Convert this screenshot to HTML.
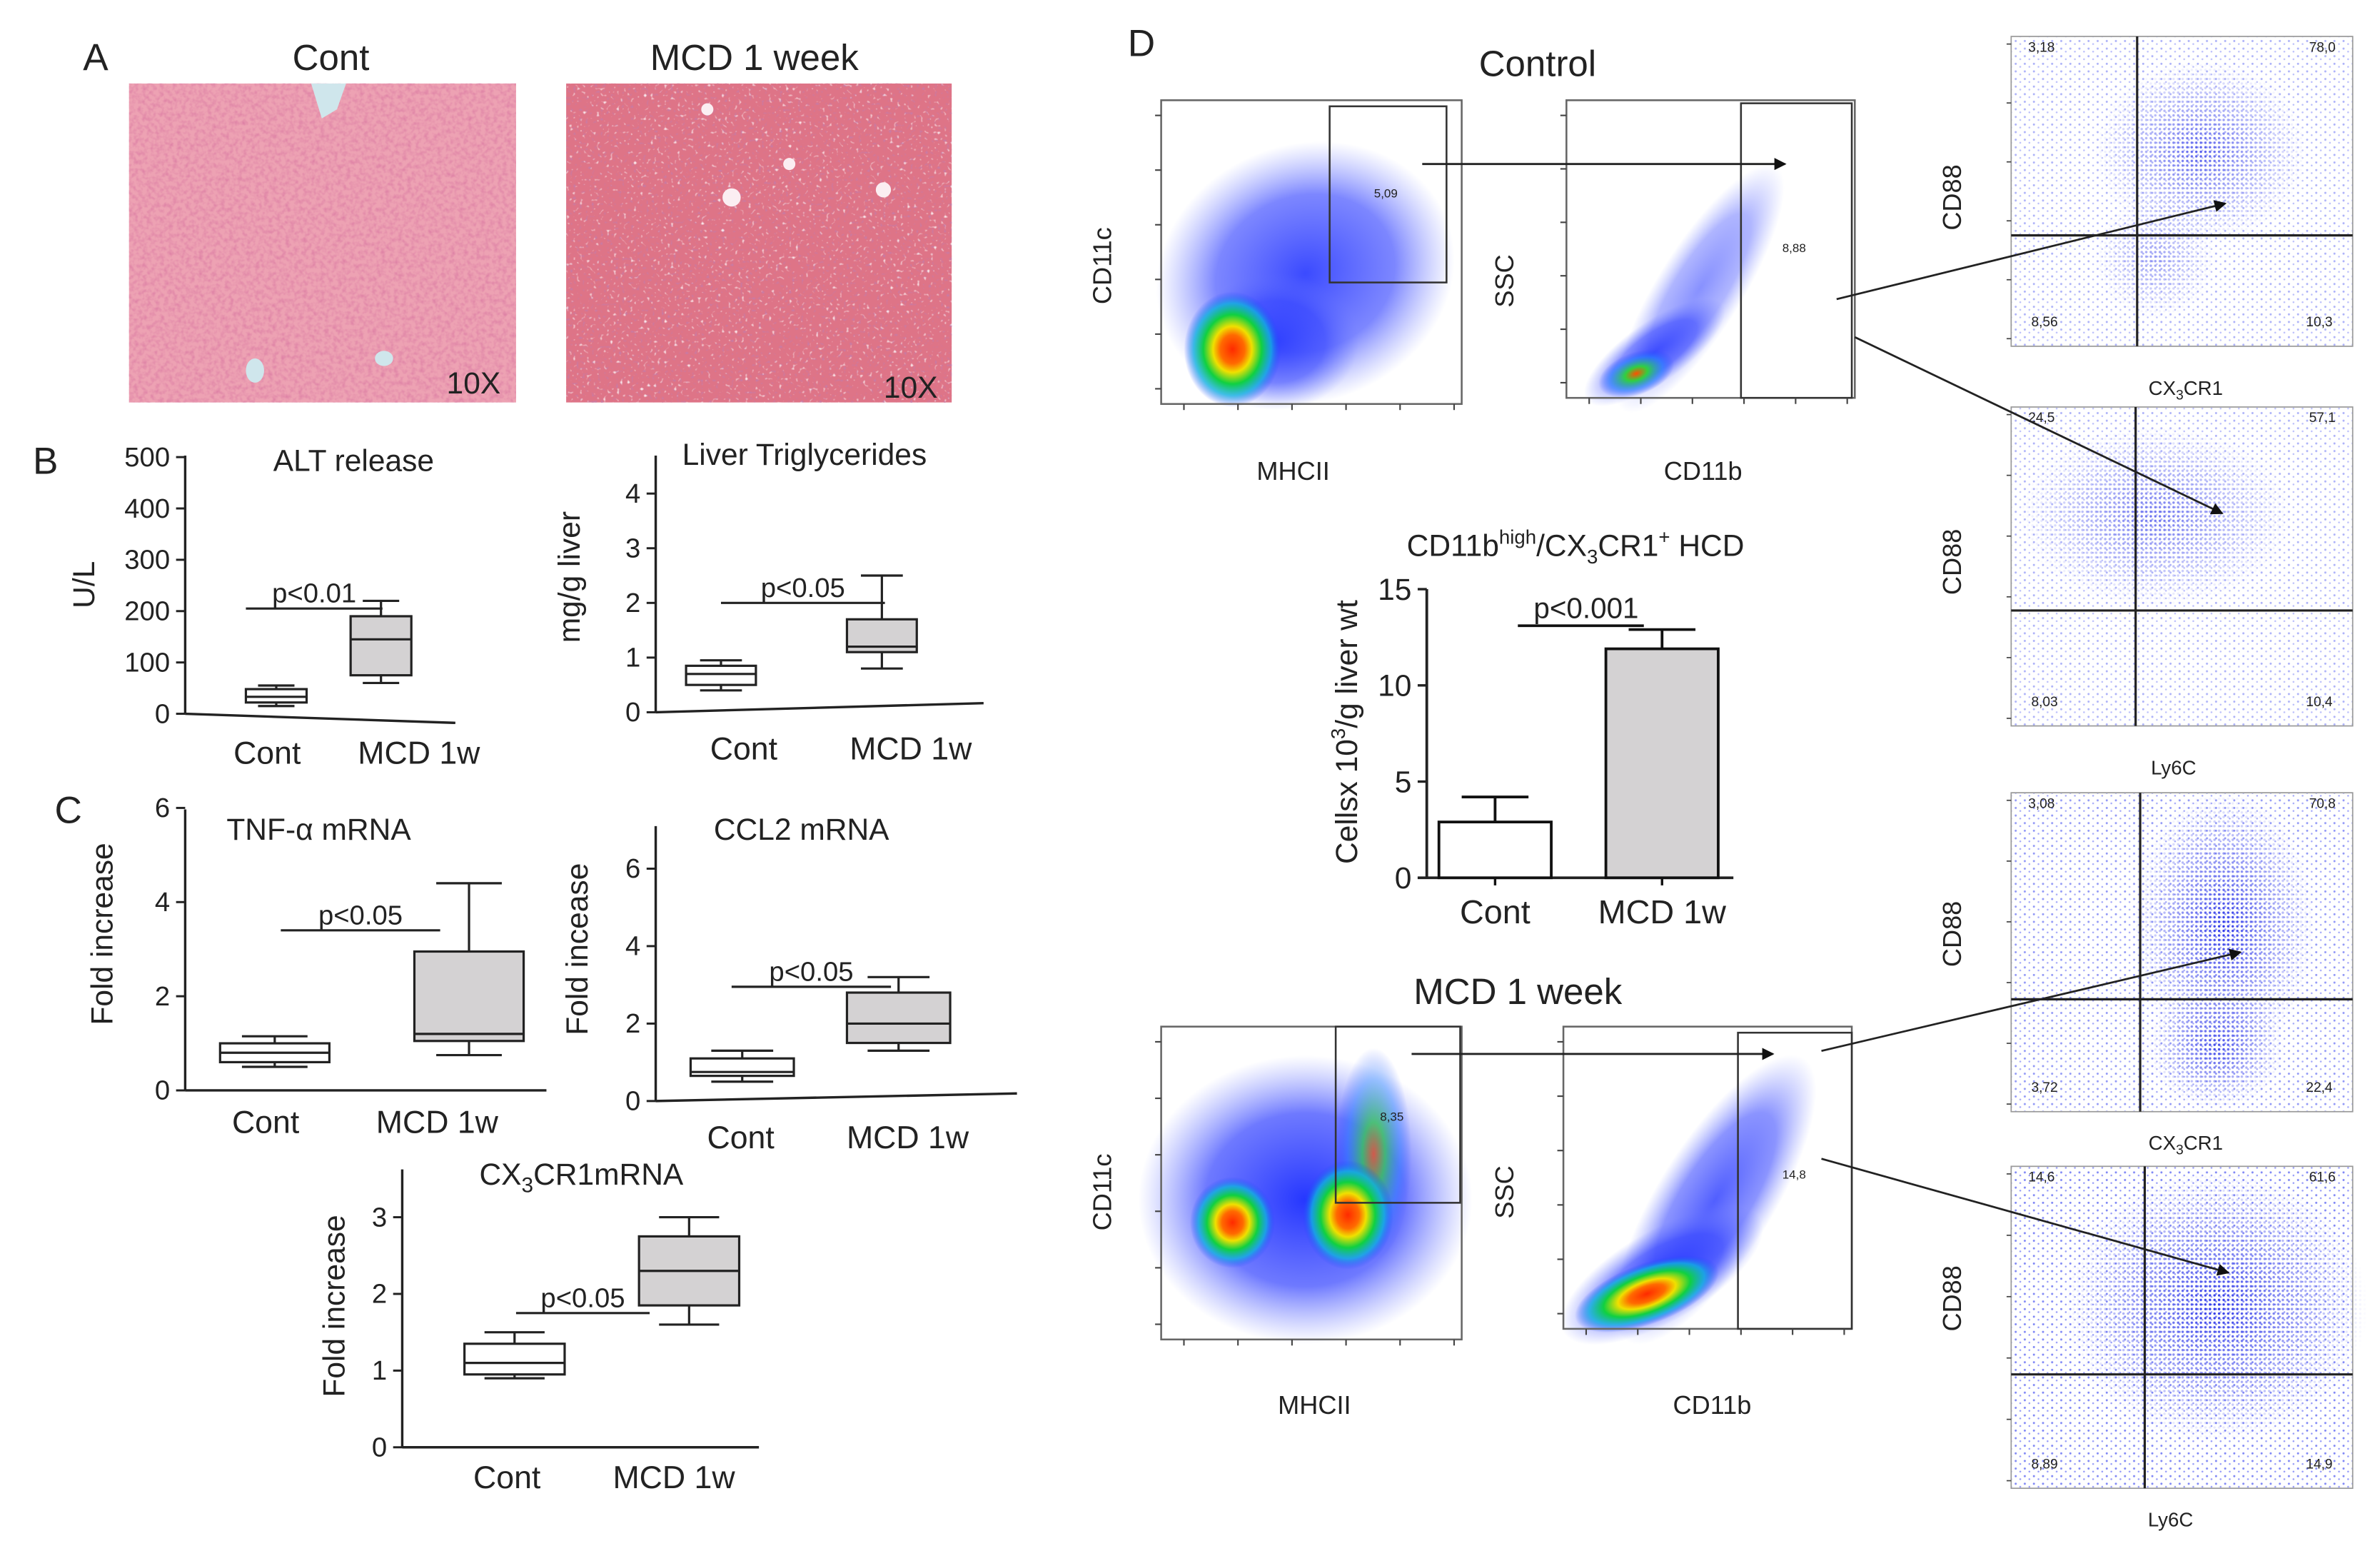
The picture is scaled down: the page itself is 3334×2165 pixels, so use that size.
<!DOCTYPE html>
<html><head><meta charset="utf-8"><style>
html,body{margin:0;padding:0;background:#fff}
svg{display:block}
text{font-family:"Liberation Sans",sans-serif;fill:#222}
</style></head><body>
<svg id="fig" width="3334" height="2165" viewBox="0 0 1568 1018" preserveAspectRatio="none" xmlns="http://www.w3.org/2000/svg">
<defs>
<filter id="tex" x="0" y="0" width="1" height="1"><feTurbulence type="fractalNoise" baseFrequency="0.35" numOctaves="2" seed="3"/><feColorMatrix type="matrix" values="0 0 0 0 0.6  0 0 0 0 0.1  0 0 0 0 0.3  0 0 0 1.4 -0.55"/></filter>
<filter id="white" x="0" y="0" width="1" height="1"><feTurbulence type="fractalNoise" baseFrequency="0.45" numOctaves="1" seed="7"/><feColorMatrix type="matrix" values="0 0 0 0 1  0 0 0 0 1  0 0 0 0 1  5 0 0 0 -3.1"/></filter>
<filter id="purp" x="0" y="0" width="1" height="1"><feTurbulence type="fractalNoise" baseFrequency="0.5" numOctaves="1" seed="11"/><feColorMatrix type="matrix" values="0 0 0 0 0.55  0 0 0 0 0.2  0 0 0 0 0.4  5 0 0 0 -3.0"/></filter>
<pattern id="dense" width="3" height="3" patternUnits="userSpaceOnUse"><circle cx="1" cy="1" r="0.8" fill="#2b35e8"/></pattern>
<pattern id="sparse" width="6" height="5" patternUnits="userSpaceOnUse"><circle cx="2" cy="2" r="0.7" fill="#4a55f0"/><circle cx="5" cy="4" r="0.6" fill="#6a72f5"/></pattern>
<radialGradient id="gBlue"><stop offset="0" stop-color="#1a2cff" stop-opacity="0.95"/><stop offset="0.6" stop-color="#3040ff" stop-opacity="0.7"/><stop offset="1" stop-color="#6070ff" stop-opacity="0"/></radialGradient>
<radialGradient id="gHot"><stop offset="0" stop-color="#ff2a00"/><stop offset="0.25" stop-color="#ff6a00"/><stop offset="0.4" stop-color="#f0e000"/><stop offset="0.6" stop-color="#10d040"/><stop offset="0.8" stop-color="#10b0e0" stop-opacity="0.8"/><stop offset="1" stop-color="#2040ff" stop-opacity="0"/></radialGradient>
<radialGradient id="gGreen"><stop offset="0" stop-color="#ff5000"/><stop offset="0.3" stop-color="#30d040"/><stop offset="0.7" stop-color="#2080ff" stop-opacity="0.6"/><stop offset="1" stop-color="#2040ff" stop-opacity="0"/></radialGradient>
<radialGradient id="gDots"><stop offset="0" stop-color="#fff" stop-opacity="1"/><stop offset="1" stop-color="#fff" stop-opacity="0"/></radialGradient>
<mask id="mDots" maskContentUnits="objectBoundingBox"><rect width="1" height="1" fill="url(#gDots)"/></mask>
<marker id="arr" markerWidth="8" markerHeight="8" refX="7" refY="4" orient="auto" markerUnits="userSpaceOnUse"><path d="M0,0 L8,4 L0,8 z" fill="#111"/></marker>
</defs>

<text x="63" y="46" font-size="25" text-anchor="middle">A</text>
<text x="218" y="46" font-size="24" text-anchor="middle">Cont</text>
<text x="497" y="46" font-size="24" text-anchor="middle">MCD 1 week</text>
<g>
<rect x="85" y="55" width="255" height="210" fill="#eda2b3"/>
<rect x="85" y="55" width="255" height="210" filter="url(#tex)" opacity="0.6"/>
<path d="M205,55 L228,55 L222,72 L212,78 Z" fill="#cfe6ec"/>
<ellipse cx="168" cy="244" rx="6" ry="8" fill="#cfe6ec"/>
<ellipse cx="253" cy="236" rx="6" ry="5" fill="#cfe6ec"/>
<text x="312" y="259" font-size="20" text-anchor="middle">10X</text>
</g>
<g>
<rect x="373" y="55" width="254" height="210" fill="#de7487"/>
<rect x="373" y="55" width="254" height="210" filter="url(#purp)" opacity="0.8"/>
<rect x="373" y="55" width="254" height="210" filter="url(#white)" opacity="0.85"/>
<circle cx="482" cy="130" r="6" fill="#fbeef2"/><circle cx="520" cy="108" r="4" fill="#fbeef2"/><circle cx="582" cy="125" r="5" fill="#fbeef2"/><circle cx="466" cy="72" r="4" fill="#fbeef2"/>
<text x="600" y="262" font-size="20" text-anchor="middle">10X</text>
</g>

<text x="30" y="312" font-size="25" text-anchor="middle">B</text>
<text x="45" y="542" font-size="25" text-anchor="middle">C</text>
<text x="752" y="37" font-size="25" text-anchor="middle">D</text>
<text x="1013" y="50" font-size="24" text-anchor="middle">Control</text>
<text x="1000" y="661" font-size="24" text-anchor="middle">MCD 1 week</text>

<g id="charts"></g>
<g id="flow"></g>
</svg>
<script>
// ---------- Box plot data ----------
const boxCats = ['Cont', 'MCD 1w'];
const altTicks = [0, 100, 200, 300, 400, 500];
const altMin = [15, 60];
const altQ1 = [22, 75];
const altMed = [33, 145];
const altQ3 = [48, 190];
const altMax = [55, 220];
const tgTicks = [0, 1, 2, 3, 4];
const tgMin = [0.4, 0.8];
const tgQ1 = [0.5, 1.1];
const tgMed = [0.7, 1.2];
const tgQ3 = [0.85, 1.7];
const tgMax = [0.95, 2.5];
const tnfTicks = [0, 2, 4, 6];
const tnfMin = [0.5, 0.75];
const tnfQ1 = [0.6, 1.05];
const tnfMed = [0.8, 1.2];
const tnfQ3 = [1.0, 2.95];
const tnfMax = [1.15, 4.4];
const ccl2Ticks = [0, 2, 4, 6];
const ccl2Min = [0.5, 1.3];
const ccl2Q1 = [0.65, 1.5];
const ccl2Med = [0.75, 2.0];
const ccl2Q3 = [1.1, 2.8];
const ccl2Max = [1.3, 3.2];
const cxTicks = [0, 1, 2, 3];
const cxMin = [0.9, 1.6];
const cxQ1 = [0.95, 1.85];
const cxMed = [1.1, 2.3];
const cxQ3 = [1.35, 2.75];
const cxMax = [1.5, 3.0];
const pvals = ['p<0.01', 'p<0.05', 'p<0.05', 'p<0.05', 'p<0.05'];
const pLevels = [205, 2.0, 3.4, 2.95, 1.75];
// ---------- Bar chart data ----------
const barCats = ['Cont', 'MCD 1w'];
const barVals = [2.9, 11.9];
const barErr = [1.3, 1.0];
const barTicks = [0, 5, 10, 15];
const barP = 'p<0.001';
const barPLevel = 13.1;

const NS = 'http://www.w3.org/2000/svg';
const charts = document.getElementById('charts');
function mk(tag, attrs, parent) {
  const e = document.createElementNS(NS, tag);
  for (const k in attrs) e.setAttribute(k, attrs[k]);
  (parent || charts).appendChild(e);
  return e;
}
function txt(str, x, y, size, parent, anchor) {
  const t = mk('text', {x: x, y: y, 'font-size': size, 'text-anchor': anchor || 'middle'}, parent);
  t.textContent = str;
  return t;
}

function boxPanel(name, ticks, mins, q1s, meds, q3s, maxs, pIdx, L) {
  const g = mk('g', {});
  
  
  const y = v => L.y0 - v * L.k;
  const ax = mk('line', {x1: L.ax, y1: y(0), x2: L.ax, y2: L.top, stroke: '#222', 'stroke-width': 1.6}, g);
  
  
  const xa = mk('line', {x1: L.ax, y1: y(0), x2: L.xEnd, y2: y(0) + (L.slant || 0), stroke: '#222', 'stroke-width': 1.6}, g);
  
  
  ticks.forEach(t => {
    mk('line', {x1: L.ax - 6, y1: y(t), x2: L.ax, y2: y(t), stroke: '#222', 'stroke-width': 1.4}, g);
    const tl = txt(String(t), L.ax - 10, y(t) + 6, 18, g, 'end');
    
    
  });
  boxCats.forEach((c, i) => {
    const cx = L.cx[i], w = L.w;
    const bg = mk('g', {}, g);
    
    
    mk('line', {x1: cx, y1: y(mins[i]), x2: cx, y2: y(maxs[i]), stroke: '#222', 'stroke-width': 1.5}, bg);
    mk('line', {x1: cx - w * 0.3, y1: y(mins[i]), x2: cx + w * 0.3, y2: y(mins[i]), stroke: '#222', 'stroke-width': 1.5}, bg);
    mk('line', {x1: cx - w * 0.3, y1: y(maxs[i]), x2: cx + w * 0.3, y2: y(maxs[i]), stroke: '#222', 'stroke-width': 1.5}, bg);
    mk('rect', {x: cx - w / 2, y: y(q3s[i]), width: w, height: y(q1s[i]) - y(q3s[i]), fill: i ? '#d4d2d3' : '#fff', stroke: '#222', 'stroke-width': 1.5}, bg);
    mk('line', {x1: cx - w / 2, y1: y(meds[i]), x2: cx + w / 2, y2: y(meds[i]), stroke: '#222', 'stroke-width': 1.5}, bg);
    const cl = txt(c, L.lx[i], L.ly, 21, g);
    
    
  });
  const pl = mk('line', {x1: L.px[0], y1: y(pLevels[pIdx]), x2: L.px[1], y2: y(pLevels[pIdx]), stroke: '#222', 'stroke-width': 1.5}, g);
  
  
  const pt = txt(pvals[pIdx], (L.px[0] + L.px[1]) / 2, y(pLevels[pIdx]) - 4, 18, g);
  
  
  const tt = mk('text', {x: L.tx, y: L.ty, 'font-size': 20, 'text-anchor': 'middle'}, g);
  tt.innerHTML = L.title;
  
  
  const yl = mk('text', {x: 0, y: 0, 'font-size': 20, 'text-anchor': 'middle', transform: 'translate(' + L.yx + ',' + L.yy + ') rotate(-90)'}, g);
  yl.innerHTML = L.ylab;
  
  
}

boxPanel('alt', altTicks, altMin, altQ1, altMed, altQ3, altMax, 0,
  {y0: 470, k: 0.338, top: 300, ax: 122, xEnd: 300, slant: 6, cx: [182, 251], w: 40, lx: [176, 276], ly: 503, px: [162, 252], tx: 233, ty: 310, title: 'ALT release', yx: 62, yy: 385, ylab: 'U/L'});
boxPanel('triglycerides', tgTicks, tgMin, tgQ1, tgMed, tgQ3, tgMax, 1,
  {y0: 469, k: 36, top: 300, ax: 432, xEnd: 648, slant: -6, cx: [475, 581], w: 46, lx: [490, 600], ly: 500, px: [475, 583], tx: 530, ty: 306, title: 'Liver Triglycerides', yx: 382, yy: 380, ylab: 'mg/g liver'});
boxPanel('tnf', tnfTicks, tnfMin, tnfQ1, tnfMed, tnfQ3, tnfMax, 2,
  {y0: 718, k: 31, top: 533, ax: 122, xEnd: 360, slant: 0, cx: [181, 309], w: 72, lx: [175, 288], ly: 746, px: [185, 290], tx: 210, ty: 553, title: 'TNF-&#945; mRNA', yx: 74, yy: 615, ylab: 'Fold increase'});
boxPanel('ccl2', ccl2Ticks, ccl2Min, ccl2Q1, ccl2Med, ccl2Q3, ccl2Max, 3,
  {y0: 725, k: 25.5, top: 544, ax: 432, xEnd: 670, slant: -5, cx: [489, 592], w: 68, lx: [488, 598], ly: 756, px: [482, 587], tx: 528, ty: 553, title: 'CCL2 mRNA', yx: 387, yy: 625, ylab: 'Fold incease'});
boxPanel('cx3cr1', cxTicks, cxMin, cxQ1, cxMed, cxQ3, cxMax, 4,
  {y0: 953, k: 50.5, top: 770, ax: 265, xEnd: 500, slant: 0, cx: [339, 454], w: 66, lx: [334, 444], ly: 980, px: [340, 428], tx: 383, ty: 780, title: 'CX<tspan font-size="14" dy="5">3</tspan><tspan dy="-5">CR1mRNA</tspan>', yx: 227, yy: 860, ylab: 'Fold increase'});

// ---------- Bar chart ----------
(function () {
  const g = mk('g', {});
  
  
  const y0 = 578, k = 12.67, axX = 940;
  const y = v => y0 - v * k;
  const cx = [985, 1095], w = 74;
  const a = mk('line', {x1: axX, y1: y0, x2: axX, y2: y(15), stroke: '#222', 'stroke-width': 1.8}, g);
  
  
  const xa = mk('line', {x1: axX - 6, y1: y0, x2: 1142, y2: y0, stroke: '#222', 'stroke-width': 1.8}, g);
  
  
  barTicks.forEach(t => {
    mk('line', {x1: axX - 6, y1: y(t), x2: axX, y2: y(t), stroke: '#222', 'stroke-width': 1.6}, g);
    const tl = txt(String(t), axX - 10, y(t) + 7, 20, g, 'end');
    
    
  });
  barCats.forEach((c, i) => {
    const b = mk('rect', {x: cx[i] - w / 2, y: y(barVals[i]), width: w, height: y0 - y(barVals[i]), fill: i ? '#d4d2d3' : '#fff', stroke: '#111', 'stroke-width': 1.8}, g);
    
    
    const e = mk('path', {d: 'M' + cx[i] + ',' + y(barVals[i]) + ' V' + y(barVals[i] + barErr[i]) + ' M' + (cx[i] - 22) + ',' + y(barVals[i] + barErr[i]) + ' H' + (cx[i] + 22), stroke: '#111', 'stroke-width': 1.8, fill: 'none'}, g);
    
    
    mk('line', {x1: cx[i], y1: y0, x2: cx[i], y2: y0 + 5, stroke: '#111', 'stroke-width': 1.6}, g);
    const cl = txt(c, cx[i], 608, 22, g);
    
    
  });
  const pl = mk('line', {x1: 1000, y1: y(barPLevel), x2: 1083, y2: y(barPLevel), stroke: '#111', 'stroke-width': 1.8}, g);
  
  
  const pt = txt(barP, 1045, y(barPLevel) - 5, 19, g);
  
  
  const tt = mk('text', {x: 1038, y: 366, 'font-size': 20, 'text-anchor': 'middle'}, g);
  tt.innerHTML = 'CD11b<tspan font-size="13" dy="-8">high</tspan><tspan dy="8">/CX</tspan><tspan font-size="13" dy="5">3</tspan><tspan dy="-5">CR1</tspan><tspan font-size="13" dy="-8">+</tspan><tspan dy="8"> HCD</tspan>';
  
  
  const yl = mk('text', {x: 0, y: 0, 'font-size': 20, 'text-anchor': 'middle', transform: 'translate(894,482) rotate(-90)'}, g);
  yl.innerHTML = 'Cellsx 10<tspan font-size="13" dy="-8">3</tspan><tspan dy="8">/g liver wt</tspan>';
  
  
})();

// ---------- Flow cytometry plots ----------
const flow = document.getElementById('flow');
function fmk(tag, attrs, parent) { return mk(tag, attrs, parent || flow); }
function rotLabel(str, x, y, parent) {
  const t = fmk('text', {x: 0, y: 0, 'font-size': 17, 'text-anchor': 'middle', transform: 'translate(' + x + ',' + y + ') rotate(-90)'}, parent);
  t.innerHTML = str;
  return t;
}
function densityPlot(name, P) {
  const g = fmk('g', {});
  
  
  P.blobs.forEach(b => {
    fmk('ellipse', {cx: b[0], cy: b[1], rx: b[2], ry: b[3], fill: 'url(#' + b[4] + ')', transform: 'rotate(' + (b[5] || 0) + ' ' + b[0] + ' ' + b[1] + ')', opacity: b[6] || 1}, g);
  });
  fmk('rect', {x: P.x, y: P.y, width: P.w, height: P.h, fill: 'none', stroke: '#666', 'stroke-width': 1.2}, g);
  const gate = fmk('rect', {x: P.gate[0], y: P.gate[1], width: P.gate[2], height: P.gate[3], fill: 'none', stroke: '#333', 'stroke-width': 1.2}, g);
  
  
  const gv = fmk('text', {x: P.gv[0], y: P.gv[1], 'font-size': 8, 'text-anchor': 'middle', fill: '#555'}, g);
  gv.textContent = P.gv[2];
  const xl = fmk('text', {x: P.xl[0], y: P.xl[1], 'font-size': 17, 'text-anchor': 'middle'}, g);
  xl.textContent = P.xl[2];
  
  
  const yl = rotLabel(P.yl[2], P.yl[0], P.yl[1], g);
  
  
  for (let i = 0; i < 6; i++) {
    fmk('line', {x1: P.x - 4, y1: P.y + 10 + i * (P.h - 20) / 5, x2: P.x, y2: P.y + 10 + i * (P.h - 20) / 5, stroke: '#444', 'stroke-width': 1}, g);
    fmk('line', {x1: P.x + 15 + i * (P.w - 20) / 5, y1: P.y + P.h, x2: P.x + 15 + i * (P.w - 20) / 5, y2: P.y + P.h + 4, stroke: '#444', 'stroke-width': 1}, g);
  }
}
densityPlot('flow-control-cd11c-mhcii', {x: 765, y: 66, w: 198, h: 200, gate: [876, 70, 77, 116], gv: [913, 130, '5,09'], xl: [852, 316, 'MHCII'], yl: [732, 175, 'CD11c'],
  blobs: [[860, 180, 100, 85, 'gBlue', -20, 0.9], [840, 225, 55, 45, 'gBlue', 0, 0.8], [812, 230, 32, 38, 'gHot', 0, 1]]});
densityPlot('flow-control-ssc-cd11b', {x: 1032, y: 66, w: 190, h: 196, gate: [1147, 68, 73, 194], gv: [1182, 166, '8,88'], xl: [1122, 316, 'CD11b'], yl: [997, 185, 'SSC'],
  blobs: [[1120, 190, 95, 28, 'gBlue', -58, 0.55], [1090, 232, 55, 20, 'gBlue', -35, 0.8], [1078, 246, 26, 14, 'gGreen', -20, 1]]});
densityPlot('flow-mcd-cd11c-mhcii', {x: 765, y: 676, w: 198, h: 206, gate: [880, 676, 82, 116], gv: [917, 738, '8,35'], xl: [866, 931, 'MHCII'], yl: [732, 785, 'CD11c'],
  blobs: [[860, 790, 110, 95, 'gBlue', 0, 1], [905, 760, 25, 70, 'gGreen', 0, 0.7], [812, 805, 28, 30, 'gHot', 0, 1], [888, 800, 30, 36, 'gHot', 0, 1]]});
densityPlot('flow-mcd-ssc-cd11b', {x: 1030, y: 676, w: 190, h: 199, gate: [1145, 680, 75, 195], gv: [1182, 776, '14,8'], xl: [1128, 931, 'CD11b'], yl: [997, 785, 'SSC'],
  blobs: [[1130, 790, 110, 38, 'gBlue', -58, 0.8], [1095, 840, 75, 30, 'gBlue', -30, 0.9], [1085, 852, 50, 20, 'gHot', -20, 1]]});

function quadPlot(name, P) {
  const g = fmk('g', {});
  
  
  fmk('rect', {x: P.x, y: P.y, width: P.w, height: P.h, fill: 'url(#sparse)', opacity: P.bg}, g);
  P.clusters.forEach(c => {
    fmk('ellipse', {cx: c[0], cy: c[1], rx: c[2], ry: c[3], fill: 'url(#dense)', mask: 'url(#mDots)', opacity: c[4]}, g);
  });
  fmk('rect', {x: P.x, y: P.y, width: P.w, height: P.h, fill: 'none', stroke: '#999', 'stroke-width': 0.8}, g);
  fmk('line', {x1: P.vx, y1: P.y, x2: P.vx, y2: P.y + P.h, stroke: '#222', 'stroke-width': 1.5}, g);
  fmk('line', {x1: P.x, y1: P.hy, x2: P.x + P.w, y2: P.hy, stroke: '#222', 'stroke-width': 1.5}, g);
  const pos = [[P.x + 20, P.y + 10], [P.x + P.w - 20, P.y + 10], [P.x + 22, P.y + P.h - 13], [P.x + P.w - 22, P.y + P.h - 13]];
  P.q.forEach((v, i) => {
    const t = fmk('text', {x: pos[i][0], y: pos[i][1], 'font-size': 9, 'text-anchor': 'middle', fill: '#444'}, g);
    t.textContent = v;
    
    
  });
  const xl = fmk('text', {x: P.xl[0], y: P.xl[1], 'font-size': 13, 'text-anchor': 'middle'}, g);
  xl.innerHTML = P.xl[2];
  
  
  const yl = rotLabel('CD88', P.yl[0], P.yl[1], g);
  
  
  for (let i = 0; i < 6; i++) {
    fmk('line', {x1: P.x - 3, y1: P.y + 5 + i * (P.h - 10) / 5, x2: P.x, y2: P.y + 5 + i * (P.h - 10) / 5, stroke: '#444', 'stroke-width': 0.8}, g);
  }
}
const cxLab = 'CX<tspan font-size="9" dy="3">3</tspan><tspan dy="-3">CR1</tspan>';
quadPlot('flow-control-cd88-cx3cr1', {x: 1325, y: 24, w: 225, h: 204, vx: 1408, hy: 155, bg: 0.45, q: ['3,18', '78,0', '8,56', '10,3'], xl: [1440, 260, cxLab], yl: [1292, 130],
  clusters: [[1450, 100, 70, 60, 0.8], [1420, 170, 40, 40, 0.5]]});
quadPlot('flow-control-cd88-ly6c', {x: 1325, y: 268, w: 225, h: 210, vx: 1407, hy: 402, bg: 0.45, q: ['24,5', '57,1', '8,03', '10,4'], xl: [1432, 510, 'Ly6C'], yl: [1292, 370],
  clusters: [[1420, 340, 90, 60, 0.7]]});
quadPlot('flow-mcd-cd88-cx3cr1', {x: 1325, y: 522, w: 225, h: 210, vx: 1410, hy: 658, bg: 0.6, q: ['3,08', '70,8', '3,72', '22,4'], xl: [1440, 757, cxLab], yl: [1292, 615],
  clusters: [[1465, 610, 60, 90, 1], [1460, 690, 45, 40, 0.9]]});
quadPlot('flow-mcd-cd88-ly6c', {x: 1325, y: 768, w: 225, h: 212, vx: 1413, hy: 905, bg: 0.7, q: ['14,6', '61,6', '8,89', '14,9'], xl: [1430, 1005, 'Ly6C'], yl: [1292, 855],
  clusters: [[1460, 860, 100, 90, 1]]});

const arrows = [[937, 108, 1176, 108], [1210, 197, 1466, 134], [1222, 222, 1464, 338], [930, 694, 1168, 694], [1200, 692, 1476, 627], [1200, 763, 1468, 838]];
arrows.forEach(a => {
  const l = fmk('line', {x1: a[0], y1: a[1], x2: a[2], y2: a[3], stroke: '#222', 'stroke-width': 1.3, 'marker-end': 'url(#arr)'});
  
  
});
</script>
</body></html>
